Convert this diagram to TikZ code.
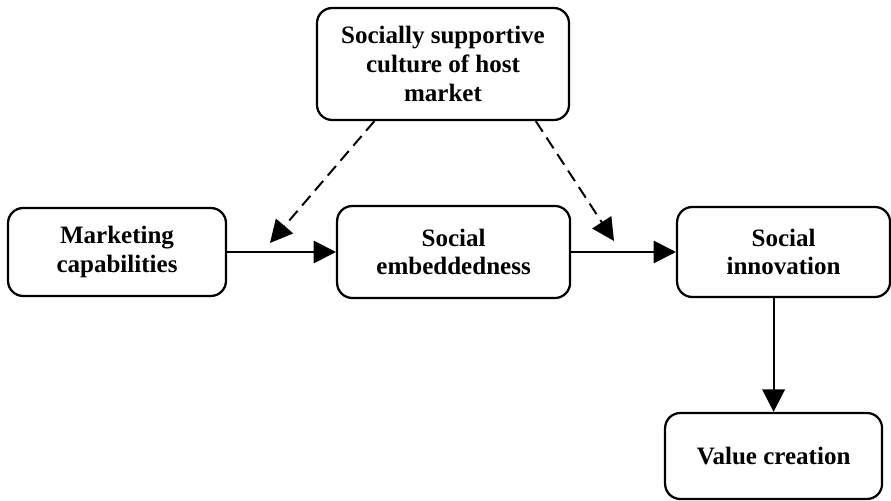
\documentclass[tikz,border=0pt]{standalone}
\usepackage{fontspec}
\setmainfont{Liberation Serif}
\usepackage{tikz}
\usetikzlibrary{arrows.meta,calc}

\begin{document}
\begin{tikzpicture}[
  box/.style={draw,line width=1.6pt,rounded corners=0.38cm,align=center,
    inner sep=0pt,font=\fontsize{17.8}{20.5}\selectfont\bfseries},
  link/.style={line width=1.4pt,-{Triangle[length=0.56cm,width=0.56cm]}},
  modlink/.style={link,dash pattern=on 9pt off 5pt}]
  \useasboundingbox (0,0) rectangle (22.275,12.525);
  \node[box,minimum width=6.3cm,minimum height=2.8cm] (sc) at (11.075,10.925) {Socially supportive\\culture of host\\market};
  \node[box,minimum width=5.45cm,minimum height=2.2cm] (mc) at (2.925,6.225) {Marketing\\capabilities};
  \node[box,minimum width=5.825cm,minimum height=2.3cm] (se) at (11.34,6.225) {Social\\embeddedness};
  \node[box,minimum width=5.325cm,minimum height=2.25cm] (si) at (19.59,6.225) {Social\\innovation};
  \node[box,minimum width=5.425cm,minimum height=2.15cm] (vc) at (19.34,1.125) {Value creation};
  \coordinate (m1) at (6.75,6.45);
  \coordinate (m2) at (15.35,6.5);
  \draw[link] (mc.east) -- (se.west);
  \draw[link] (se.east) -- (si.west);
  \draw[link] (vc.north |- si.south) -- (vc.north);
  \draw[modlink] ($(sc.south west)!0.23!(sc.south east)$) -- (m1);
  \draw[modlink] ($(sc.south west)!0.865!(sc.south east)$) -- (m2);
\end{tikzpicture}
\end{document}
